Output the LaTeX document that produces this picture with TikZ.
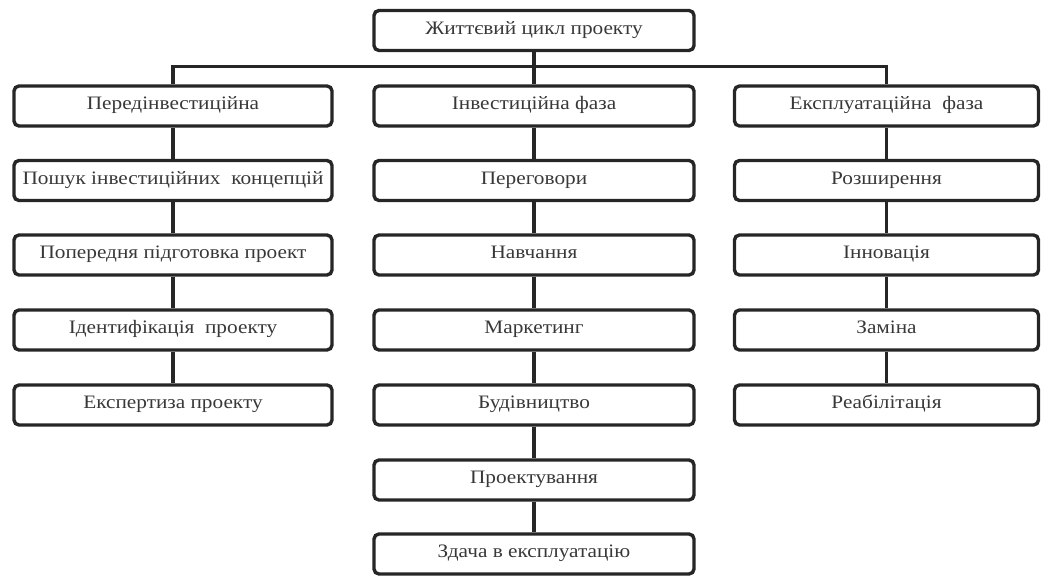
\documentclass[tikz,border=0pt]{standalone}
\usepackage{fontspec}
\setmainfont{Liberation Serif}[FakeStretch=1.12]
\begin{document}
\begin{tikzpicture}[x=1pt,y=-1pt,
  box/.style={draw=black!85, line width=3.4pt, rounded corners=5pt, minimum height=40pt,
    inner sep=0pt, text=black!78, font=\fontsize{19}{22}\selectfont,
    text height=0.74em, text depth=0em},
  w1/.style={box, minimum width=318pt},
  w2/.style={box, minimum width=320pt},
  w3/.style={box, minimum width=304pt},
  link/.style={draw=black!85, line width=3.4pt}]
\useasboundingbox (0,0) rectangle (1044,577);
\node[w2] (top) at (534,30.5) {Життєвий цикл проекту};
% column 1
\node[w1] (a1) at (173,106) {Передінвестиційна};
\node[w1] (a2) at (173,180.5) {Пошук інвестиційних \ концепцій};
\node[w1] (a3) at (173,255) {Попередня підготовка проект};
\node[w1] (a4) at (173,330) {Ідентифікація \ проекту};
\node[w1] (a5) at (173,405) {Експертиза проекту};
% column 2
\node[w2] (b1) at (534,106) {Інвестиційна фаза};
\node[w2] (b2) at (534,180.5) {Переговори};
\node[w2] (b3) at (534,255) {Навчання};
\node[w2] (b4) at (534,330) {Маркетинг};
\node[w2] (b5) at (534,405) {Будівництво};
\node[w2] (b6) at (534,480) {Проектування};
\node[w2] (b7) at (534,554) {Здача в експлуатацію};
% column 3
\node[w3] (c1) at (886.5,106) {Експлуатаційна \ фаза};
\node[w3] (c2) at (886.5,180.5) {Розширення};
\node[w3] (c3) at (886.5,255) {Інновація};
\node[w3] (c4) at (886.5,330) {Заміна};
\node[w3] (c5) at (886.5,405) {Реабілітація};
% connectors
\draw[link] (top) -- (b1);
\draw[link] (a1.north) -- ++(0,-18) -| (c1.north);
\foreach \u/\v in {a1/a2,a2/a3,a3/a4,a4/a5,b1/b2,b2/b3,b3/b4,b4/b5,b5/b6,b6/b7,c1/c2,c2/c3,c3/c4,c4/c5}
  \draw[link] (\u) -- (\v);
\end{tikzpicture}
\end{document}
